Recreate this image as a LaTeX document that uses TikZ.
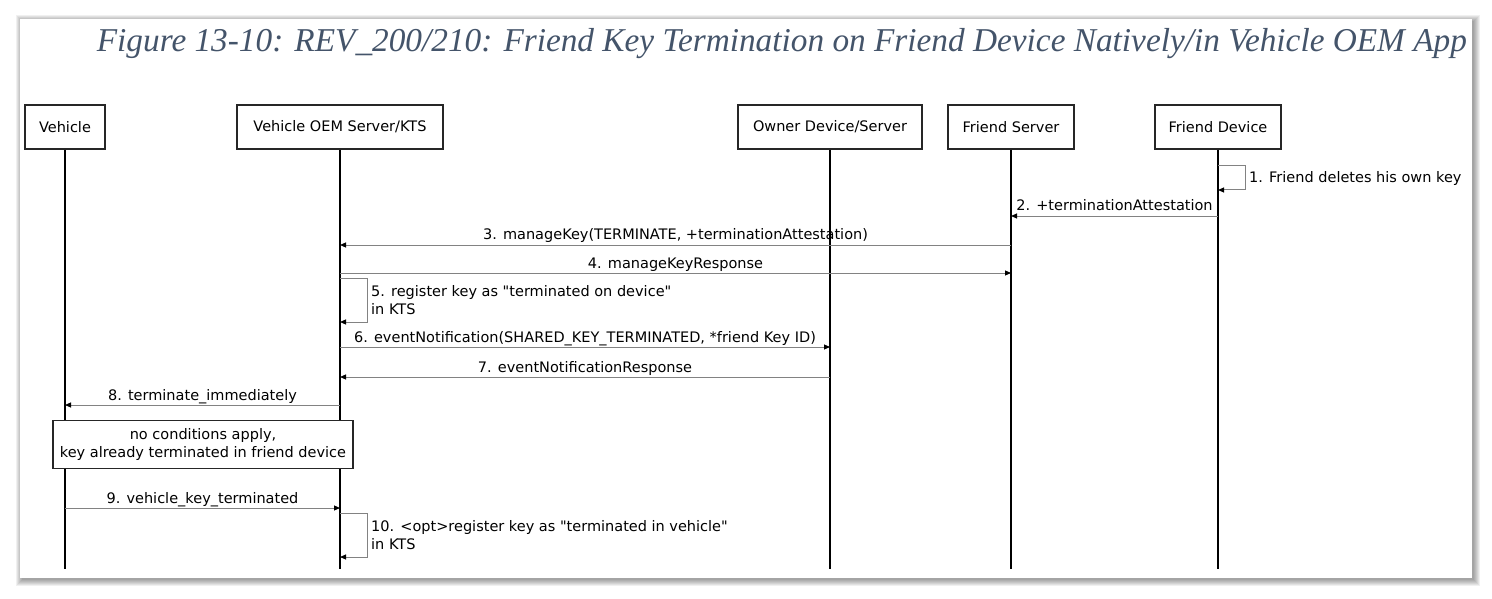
\documentclass[tikz,border=0pt]{standalone}
\usepackage{fontspec}
\newfontfamily\bodyfont{DejaVu Sans}
\newfontfamily\titlefont{Liberation Serif}
\usetikzlibrary{arrows.meta}
\definecolor{titleblue}{RGB}{68,84,106}
\definecolor{msggray}{RGB}{130,130,130}
\begin{document}
\begin{tikzpicture}[x=1pt,y=-1pt,
  every node/.style={font=\bodyfont\fontsize{14.5}{18}\selectfont, inner sep=0pt, text=black},
  actor/.style={draw=black!85, line width=1.2pt, fill=white, minimum height=44pt, anchor=center},
  life/.style={black, line width=1.2pt},
  msg/.style={msggray, line width=1pt, -{Triangle[length=6pt,width=5pt,color=black]}},
  lbl/.style={anchor=base, yshift=5pt, text=black},
  selflbl/.style={anchor=west, align=left, text=black},
  notebox/.style={draw=black!85, line width=1.2pt, fill=white, align=center, minimum width=300pt, minimum height=48pt}
]
\useasboundingbox (0,0) rectangle (1492,599);
\fill[white] (0,0) rectangle (1492,599);
% page shadow
\foreach \i in {1,...,7}
  \fill[black, opacity=0.06] (20-\i+3,19-\i+3) rectangle (1472+\i+1,578+\i+1);
\fill[white] (20,19) rectangle (1472,578);

% title
\node[anchor=base east, text=titleblue, font=\titlefont\itshape\fontsize{33.3}{38}\selectfont] (title) at (1467,52)
  {Figure 13-10: REV\_200/210: Friend Key Termination on Friend Device Natively/in Vehicle OEM App};

% actors
\node[actor, minimum width=80pt]  (veh) at (65,127)   {Vehicle};
\node[actor, minimum width=206pt] (oem) at (340,127)  {Vehicle OEM Server/KTS};
\node[actor, minimum width=184pt] (own) at (830,127)  {Owner Device/Server};
\node[actor, minimum width=126pt] (fs)  at (1011,127) {Friend Server};
\node[actor, minimum width=126pt] (fd)  at (1218,127) {Friend Device};

% lifelines
\coordinate (vehE) at (65,569);
\coordinate (oemE) at (340,569);
\coordinate (ownE) at (830,569);
\coordinate (fsE)  at (1011,569);
\coordinate (fdE)  at (1218,569);
\draw[life] (veh.south) -- (vehE);
\draw[life] (oem.south) -- (oemE);
\draw[life] (own.south) -- (ownE);
\draw[life] (fs.south) -- (fsE);
\draw[life] (fd.south) -- (fdE);

% 1 self
\draw[msg] (fd |- 0,166) -- (1245,166) -- (1245,190) -- (fd |- 0,190);
\node[selflbl] (l1) at (1249,178) {1. Friend deletes his own key};

% 2
\draw[msg] (fd |- 0,216) -- node[lbl] (l2) {2. +terminationAttestation} (fs |- 0,216);
% 3
\draw[msg] (fs |- 0,245) -- node[lbl] (l3) {3. manageKey(TERMINATE, +terminationAttestation)} (oem |- 0,245);
% 4
\draw[msg] (oem |- 0,273) -- node[lbl] (l4) {4. manageKeyResponse} (fs |- 0,273);
% 5 self
\draw[msg] (oem |- 0,278) -- (367,278) -- (367,322) -- (oem |- 0,322);
\node[selflbl] (l5) at (371,300) {5. register key as "terminated on device"\\in KTS};
% 6
\draw[msg] (oem |- 0,347) -- node[lbl] (l6) {6. eventNotification(SHARED\_KEY\_TERMINATED, *friend Key ID)} (own |- 0,347);
% 7
\draw[msg] (own |- 0,377) -- node[lbl] (l7) {7. eventNotificationResponse} (oem |- 0,377);
% 8
\draw[msg] (oem |- 0,405) -- node[lbl] (l8) {8. terminate\_immediately} (veh |- 0,405);
% note
\node[notebox] (note) at (203,444.5) {no conditions apply,\\key already terminated in friend device};
% 9
\draw[msg] (veh |- 0,508) -- node[lbl] (l9) {9. vehicle\_key\_terminated} (oem |- 0,508);
% 10 self
\draw[msg] (oem |- 0,513) -- (367,513) -- (367,557) -- (oem |- 0,557);
\node[selflbl] (l10) at (371,535) {10. <opt>register key as "terminated in vehicle"\\in KTS};
\end{tikzpicture}
\end{document}
